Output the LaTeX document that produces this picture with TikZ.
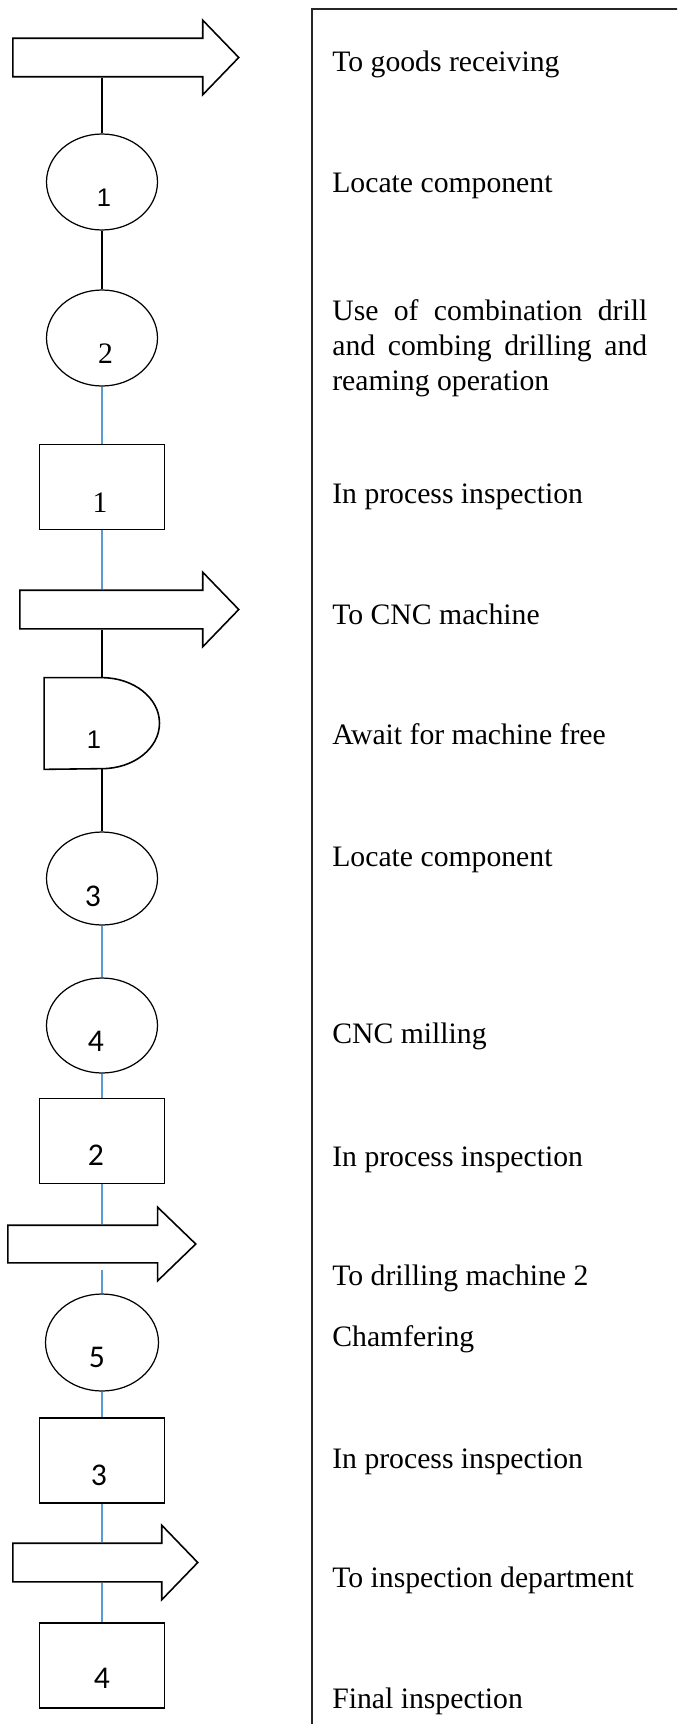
\documentclass[tikz,border=0pt]{standalone}
\usepackage{fontspec}
\setmainfont{Liberation Serif}
\newfontfamily\numsans{Liberation Sans}
\newfontfamily\numcal{Carlito}
\usepackage{tikz}
\usetikzlibrary{shapes.geometric, shapes.arrows}
\definecolor{linkblue}{RGB}{91,155,213}
\tikzset{
    opcircle/.style={
        ellipse, draw=black, line width=0.7pt, minimum width=2.22cm, minimum height=1.92cm, inner sep=0pt
    },
    inspbox/.style={
        rectangle, draw=black, line width=0.9pt, minimum width=2.5cm, minimum height=1.7cm, inner sep=0pt
    },
    delaybox/.style={
        rectangle, minimum width=2.3cm, minimum height=1.82cm, inner sep=0pt
    },
    movearrow/.style={
        single arrow, draw=black, fill=white, line width=0.9pt, anchor=tail, inner xsep=0pt, inner ysep=0.37cm,
        single arrow head extend=0.36cm, single arrow tip angle=92
    },
    desc/.style={
        anchor=base west, inner sep=0pt, font=\fontsize{16.9pt}{20.2pt}\selectfont
    },
    lbl_serif/.style={font=\fontsize{16.9pt}{20pt}\selectfont},
    lbl_sans/.style={font=\numsans\fontsize{14.5pt}{17pt}\selectfont},
    lbl_cal/.style={font=\numcal\fontsize{18pt}{21pt}\selectfont},
    link_black/.style={line width=1pt, draw=black},
    link_blue/.style={line width=0.7pt, draw=linkblue}
}
\begin{document}
\begin{tikzpicture}[x=0.02cm, y=-0.02cm]
    \useasboundingbox (0, 0) rectangle (677, 1724);
    \clip (0, 0) rectangle (677, 1724);

    % Frame of the descriptions
    \draw[line width=0.8pt, draw=black!85] (312, 9) rectangle (720, 1760);

    % Symbols
    \node[movearrow, minimum height=4.52cm] (mv1) at (12, 57.5) {};
    \node[opcircle, label={[lbl_sans, xshift=0.04cm, yshift=-0.31cm]center:1}] (op1) at (102, 182) {};
    \node[opcircle, label={[lbl_serif, xshift=0.07cm, yshift=-0.31cm]center:2}] (op2) at (102, 338) {};
    \node[inspbox, label={[lbl_serif, xshift=-0.04cm, yshift=-0.31cm]center:1}] (in1) at (102, 487) {};
    \node[movearrow, minimum height=4.38cm] (mv2) at (19, 609.5) {};
    \node[delaybox, label={[lbl_sans, xshift=-0.16cm, yshift=-0.33cm]center:1}] (dl1) at (102, 723.5) {};
    \draw[line width=0.9pt] (dl1.north west) -- (dl1.north)
        arc[start angle=90, end angle=-90, x radius=1.15cm, y radius=0.91cm] -- (dl1.south west) -- cycle;
    \node[opcircle, minimum height=1.86cm, label={[lbl_cal, xshift=-0.18cm, yshift=-0.36cm]center:3}] (op3) at (102, 878.5) {};
    \node[opcircle, minimum height=1.9cm, label={[lbl_cal, xshift=-0.12cm, yshift=-0.32cm]center:4}] (op4) at (102, 1025.5) {};
    \node[inspbox, label={[lbl_cal, xshift=-0.12cm, yshift=-0.28cm]center:2}] (in2) at (102, 1141) {};
    \node[movearrow, minimum height=3.76cm, inner ysep=0.36cm, single arrow tip angle=88] (mv3) at (7, 1244) {};
    \node[opcircle, minimum width=2.26cm, minimum height=1.94cm, label={[lbl_cal, xshift=-0.1cm, yshift=-0.3cm]center:5}] (op5) at (102, 1342.5) {};
    \node[inspbox, label={[lbl_cal, xshift=-0.06cm, yshift=-0.29cm]center:3}] (in3) at (102, 1460.5) {};
    \node[movearrow, minimum height=3.7cm] (mv4) at (12, 1562.5) {};
    \node[inspbox, label={[lbl_cal, yshift=-0.25cm]center:4}] (in4) at (102, 1665.5) {};

    % Links
    \draw[link_black] (op1.north |- mv1.south) -- (op1.north);
    \draw[link_black] (op1) -- (op2);
    \draw[link_blue] (op2) -- (in1);
    \draw[link_blue] (in1.south) -- (in1.south |- mv2.north);
    \draw[link_black] (dl1.north |- mv2.south) -- (dl1.north);
    \draw[link_black] (dl1) -- (op3);
    \draw[link_blue] (op3) -- (op4);
    \draw[link_blue] (op4) -- (in2);
    \draw[link_blue] (in2.south) -- (in2.south |- mv3.north);
    \draw[link_blue, shorten <=0.12cm] (op5.north |- mv3.south) -- (op5.north);
    \draw[link_blue] (op5) -- (in3);
    \draw[link_blue] (in3.south) -- (in3.south |- mv4.north);
    \draw[link_blue] (in4.north |- mv4.south) -- (in4.north);

    % Descriptions
    \node[desc] (recv) at (332, 71) {To goods receiving};
    \node[desc] (locate1) at (332, 192) {Locate component};
    \node[desc, text width=6.3cm, align=justify] (drill) at (332, 320)
        {Use of combination drill\linebreak and combing drilling and\linebreak reaming operation};
    \node[desc] (insp1) at (332, 503) {In process inspection};
    \node[desc] (tocnc) at (332, 624) {To CNC machine};
    \node[desc] (wait) at (332, 744) {Await for machine free};
    \node[desc] (locate2) at (332, 866) {Locate component};
    \node[desc] (mill) at (332, 1043) {CNC milling};
    \node[desc] (insp2) at (332, 1166) {In process inspection};
    \node[desc] (todrill) at (332, 1285) {To drilling machine 2};
    \node[desc] (chamfer) at (332, 1346) {Chamfering};
    \node[desc] (insp3) at (332, 1468) {In process inspection};
    \node[desc] (toinsp) at (332, 1587) {To inspection department};
    \node[desc] (final) at (332, 1708) {Final inspection};
\end{tikzpicture}
\end{document}
